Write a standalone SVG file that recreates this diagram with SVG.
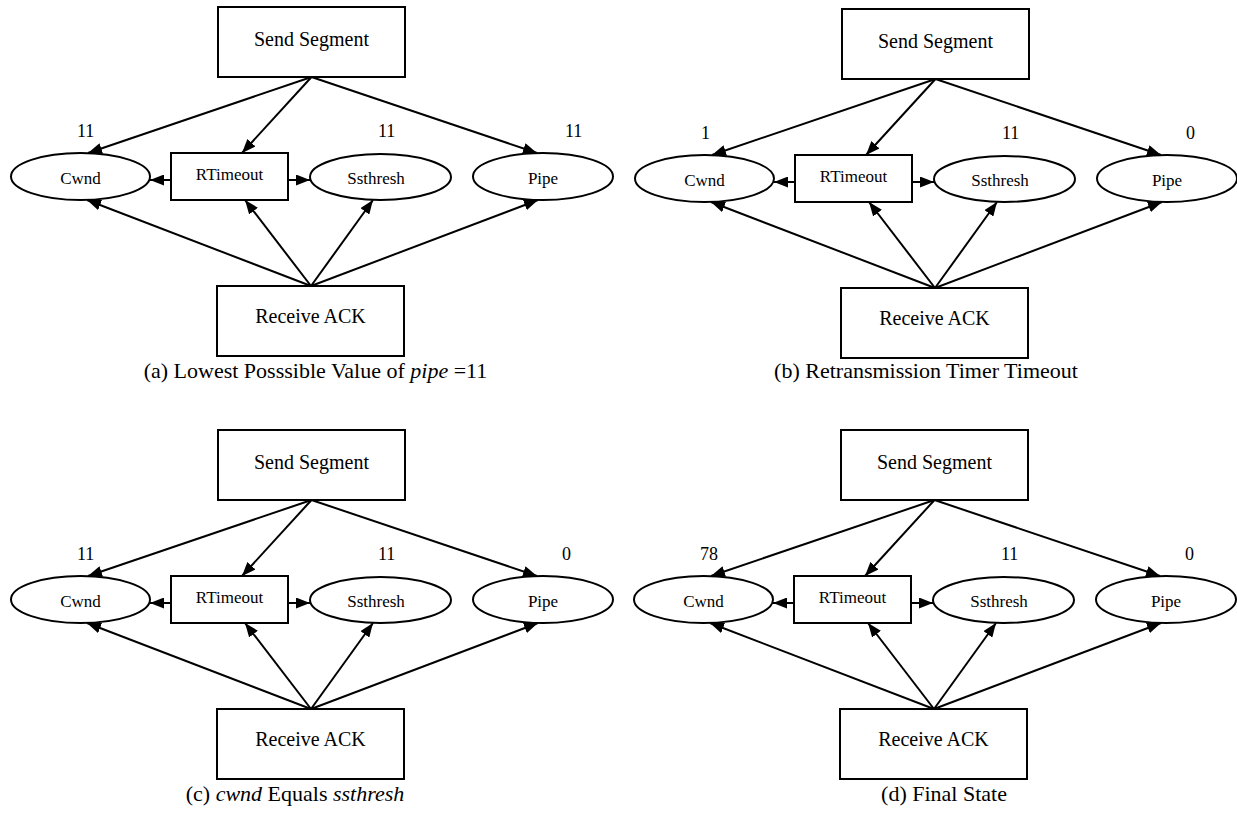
<svg xmlns="http://www.w3.org/2000/svg" width="1237" height="818" viewBox="0 0 1237 818" font-family="'Liberation Serif', 'DejaVu Serif', serif">
  <defs>
    <marker id="arrow" viewBox="0 0 14 11" refX="14" refY="5.5" markerWidth="14" markerHeight="11" markerUnits="userSpaceOnUse" orient="auto">
      <path d="M0,0 L14,5.5 L0,11 z" fill="#000"/>
    </marker>
  </defs>
  <style>
    .box { fill: #fff; stroke: #000; stroke-width: 2; }
    .oval { fill: #fff; stroke: #000; stroke-width: 2; }
    .edge { fill: none; stroke: #000; stroke-width: 2; marker-end: url(#arrow); }
    text { font-family: 'Liberation Serif', 'DejaVu Serif', serif; fill: #000; }
    .big { font-size: 20px; text-anchor: middle; }
    .small { font-size: 17px; text-anchor: middle; }
    .val { font-size: 18px; }
    .cap { font-size: 22px; text-anchor: middle; }
    .it { font-style: italic; }
  </style>
  <rect width="1237" height="818" fill="#fff"/>

  <!-- (a) -->
  <g id="panel-a">
    <g id="a-edges">
      <path class="edge" d="M311.5,77 L88,153"/>
      <path class="edge" d="M311.5,77 L242,153"/>
      <path class="edge" d="M311.5,77 L537,153"/>
      <path class="edge" d="M171,180 L150,180"/>
      <path class="edge" d="M288,180 L310,180"/>
      <path class="edge" d="M311,286 L87,200"/>
      <path class="edge" d="M311,286 L245,200"/>
      <path class="edge" d="M311,286 L373,200"/>
      <path class="edge" d="M311,286 L538,200"/>
    </g>
    <g id="a-send"><rect class="box" x="218" y="7" width="187" height="70"/><text class="big" x="311.5" y="46">Send Segment</text></g>
    <g id="a-cwnd"><ellipse class="oval" cx="80.5" cy="176.5" rx="69.5" ry="23.5"/><text class="small" x="80.5" y="184">Cwnd</text></g>
    <g id="a-rtimeout"><rect class="box" x="171" y="153" width="117" height="47"/><text class="small" x="229.5" y="180">RTimeout</text></g>
    <g id="a-ssthresh"><ellipse class="oval" cx="380.5" cy="177" rx="70.5" ry="23"/><text class="small" x="376" y="184">Ssthresh</text></g>
    <g id="a-pipe"><ellipse class="oval" cx="543" cy="176.5" rx="70" ry="23.5"/><text class="small" x="543" y="184">Pipe</text></g>
    <g id="a-receive"><rect class="box" x="217" y="286" width="187" height="70"/><text class="big" x="310.5" y="323">Receive ACK</text></g>
    <g id="a-values">
      <text class="val" x="77" y="137">11</text>
      <text class="val" x="378" y="137">11</text>
      <text class="val" x="565" y="137">11</text>
    </g>
    <text class="cap" x="315.5" y="378">(a) Lowest Posssible Value of <tspan class="it">pipe</tspan> =11</text>
  </g>

  <!-- (b) -->
  <g id="panel-b" transform="translate(624,2)">
    <g id="b-edges">
      <path class="edge" d="M311.5,77 L88,153"/>
      <path class="edge" d="M311.5,77 L242,153"/>
      <path class="edge" d="M311.5,77 L537,153"/>
      <path class="edge" d="M171,180 L150,180"/>
      <path class="edge" d="M288,180 L310,180"/>
      <path class="edge" d="M311,286 L87,200"/>
      <path class="edge" d="M311,286 L245,200"/>
      <path class="edge" d="M311,286 L373,200"/>
      <path class="edge" d="M311,286 L538,200"/>
    </g>
    <g id="b-send"><rect class="box" x="218" y="7" width="187" height="70"/><text class="big" x="311.5" y="46">Send Segment</text></g>
    <g id="b-cwnd"><ellipse class="oval" cx="80.5" cy="176.5" rx="69.5" ry="23.5"/><text class="small" x="80.5" y="184">Cwnd</text></g>
    <g id="b-rtimeout"><rect class="box" x="171" y="153" width="117" height="47"/><text class="small" x="229.5" y="180">RTimeout</text></g>
    <g id="b-ssthresh"><ellipse class="oval" cx="380.5" cy="177" rx="70.5" ry="23"/><text class="small" x="376" y="184">Ssthresh</text></g>
    <g id="b-pipe"><ellipse class="oval" cx="543" cy="176.5" rx="70" ry="23.5"/><text class="small" x="543" y="184">Pipe</text></g>
    <g id="b-receive"><rect class="box" x="217" y="286" width="187" height="70"/><text class="big" x="310.5" y="323">Receive ACK</text></g>
    <g id="b-values">
      <text class="val" x="77" y="137">1</text>
      <text class="val" x="378" y="137">11</text>
      <text class="val" x="562" y="137">0</text>
    </g>
    <text class="cap" x="302" y="376" font-size="24.5">(b) Retransmission Timer Timeout</text>
  </g>

  <!-- (c) -->
  <g id="panel-c" transform="translate(0,423)">
    <g id="c-edges">
      <path class="edge" d="M311.5,77 L88,153"/>
      <path class="edge" d="M311.5,77 L242,153"/>
      <path class="edge" d="M311.5,77 L537,153"/>
      <path class="edge" d="M171,180 L150,180"/>
      <path class="edge" d="M288,180 L310,180"/>
      <path class="edge" d="M311,286 L87,200"/>
      <path class="edge" d="M311,286 L245,200"/>
      <path class="edge" d="M311,286 L373,200"/>
      <path class="edge" d="M311,286 L538,200"/>
    </g>
    <g id="c-send"><rect class="box" x="218" y="7" width="187" height="70"/><text class="big" x="311.5" y="46">Send Segment</text></g>
    <g id="c-cwnd"><ellipse class="oval" cx="80.5" cy="176.5" rx="69.5" ry="23.5"/><text class="small" x="80.5" y="184">Cwnd</text></g>
    <g id="c-rtimeout"><rect class="box" x="171" y="153" width="117" height="47"/><text class="small" x="229.5" y="180">RTimeout</text></g>
    <g id="c-ssthresh"><ellipse class="oval" cx="380.5" cy="177" rx="70.5" ry="23"/><text class="small" x="376" y="184">Ssthresh</text></g>
    <g id="c-pipe"><ellipse class="oval" cx="543" cy="176.5" rx="70" ry="23.5"/><text class="small" x="543" y="184">Pipe</text></g>
    <g id="c-receive"><rect class="box" x="217" y="286" width="187" height="70"/><text class="big" x="310.5" y="323">Receive ACK</text></g>
    <g id="c-values">
      <text class="val" x="77" y="137">11</text>
      <text class="val" x="378" y="137">11</text>
      <text class="val" x="562" y="137">0</text>
    </g>
    <text class="cap" x="295" y="378" font-size="23.5">(c) <tspan class="it">cwnd</tspan> Equals <tspan class="it">ssthresh</tspan></text>
  </g>

  <!-- (d) -->
  <g id="panel-d" transform="translate(623,423)">
    <g id="d-edges">
      <path class="edge" d="M311.5,77 L88,153"/>
      <path class="edge" d="M311.5,77 L242,153"/>
      <path class="edge" d="M311.5,77 L537,153"/>
      <path class="edge" d="M171,180 L150,180"/>
      <path class="edge" d="M288,180 L310,180"/>
      <path class="edge" d="M311,286 L87,200"/>
      <path class="edge" d="M311,286 L245,200"/>
      <path class="edge" d="M311,286 L373,200"/>
      <path class="edge" d="M311,286 L538,200"/>
    </g>
    <g id="d-send"><rect class="box" x="218" y="7" width="187" height="70"/><text class="big" x="311.5" y="46">Send Segment</text></g>
    <g id="d-cwnd"><ellipse class="oval" cx="80.5" cy="176.5" rx="69.5" ry="23.5"/><text class="small" x="80.5" y="184">Cwnd</text></g>
    <g id="d-rtimeout"><rect class="box" x="171" y="153" width="117" height="47"/><text class="small" x="229.5" y="180">RTimeout</text></g>
    <g id="d-ssthresh"><ellipse class="oval" cx="380.5" cy="177" rx="70.5" ry="23"/><text class="small" x="376" y="184">Ssthresh</text></g>
    <g id="d-pipe"><ellipse class="oval" cx="543" cy="176.5" rx="70" ry="23.5"/><text class="small" x="543" y="184">Pipe</text></g>
    <g id="d-receive"><rect class="box" x="217" y="286" width="187" height="70"/><text class="big" x="310.5" y="323">Receive ACK</text></g>
    <g id="d-values">
      <text class="val" x="77" y="137">78</text>
      <text class="val" x="378" y="137">11</text>
      <text class="val" x="562" y="137">0</text>
    </g>
    <text class="cap" x="321" y="378">(d) Final State</text>
  </g>
</svg>
